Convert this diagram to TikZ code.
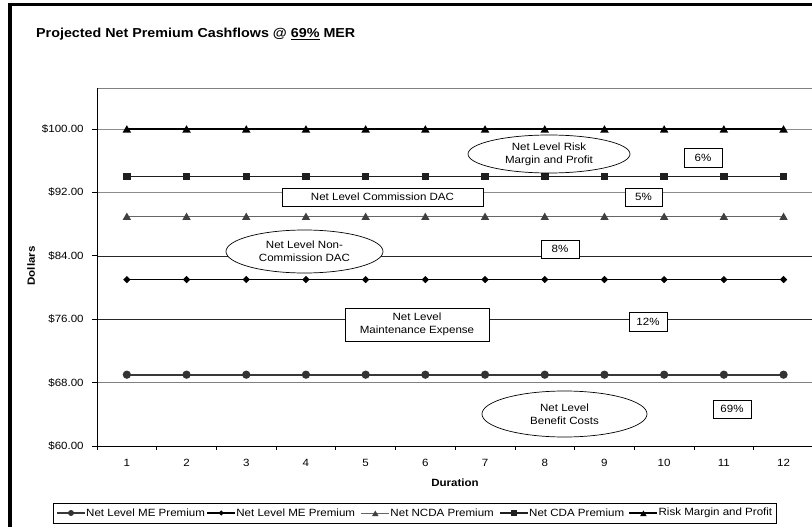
\documentclass[tikz,border=0pt]{standalone}
\usepackage{fontspec}
\setmainfont{Liberation Sans}[FakeStretch=1.1]
\usetikzlibrary{shapes.geometric, positioning}

\begin{document}
\begin{tikzpicture}[x=1pt, y=-1pt,
        lbl/.style={font=\fontsize{10.5}{13}\selectfont, inner sep=0pt},
        boldlbl/.style={font=\fontsize{10.5}{13}\selectfont\bfseries, inner sep=0pt},
        annot/.style={draw, fill=white, line width=0.7pt, inner sep=0pt, align=center, font=\fontsize{10.5}{13}\selectfont},
        annotEll/.style={annot, ellipse},
        gridGrey/.style={line width=0.6pt, draw=black!45},
        gridDark/.style={line width=0.6pt, draw=black!85},
        gridThick/.style={line width=1.6pt, draw=black!50},
        riskline/.style={line width=1.8pt, draw=black},
        cdaline/.style={line width=1.8pt, draw=black!88},
        ncdaline/.style={line width=0.9pt, draw=black!60},
        meline/.style={line width=1.8pt, draw=black},
        benline/.style={line width=2.2pt, draw=black!78},
        markTri/.style={regular polygon, regular polygon sides=3, fill, inner sep=0pt, minimum size=10pt, yshift=-1.2pt},
        markSq/.style={rectangle, fill, inner sep=0pt, minimum size=7.5pt},
        markDia/.style={diamond, fill, inner sep=0pt, minimum size=7.5pt},
        markDot/.style={circle, fill, inner sep=0pt, minimum size=8.3pt},
        legtext/.style={font=\fontsize{10.5}{13}\selectfont, inner sep=1pt},
        ]
        \useasboundingbox (0,0) rectangle (812,527);

        % frame and title
        \draw[line width=3.5pt] (10,4.5) rectangle (900,600);
        \node[font=\fontsize{13}{15}\selectfont\bfseries, inner sep=0pt, anchor=base west] (title) at (36,37.3)
            {Projected Net Premium Cashflows @ \underline{69\%} MER};

        % plot area
        \coordinate (plotNW) at (97,88);
        \coordinate (plotNE) at (830,88);
        \coordinate (plotSW) at (97,446);
        \coordinate (plotSE) at (830,446);
        \draw[line width=0.9pt, black!50] (plotNW) -- (plotNE);

        \begin{scope}[shift={(97,446)}, x=59.7pt, y=7.925pt]
            % gridlines
            \draw[gridGrey] (0,40) -- (12.5,40);
            \draw[gridGrey] (0,32) -- (12.5,32);
            \draw[gridDark] (0,24) -- (12.5,24);
            \draw[gridDark] (0,16) -- (12.5,16);
            \draw[gridThick] (0,8) -- (12.5,8);

            % ticks and tick labels
            \foreach \k in {0,...,12}
                \draw[line width=0.7pt] (\k,0) -- (\k,-0.5);
            \foreach \v/\t in {0/60,8/68,16/76,24/84,32/92,40/100} {
                \draw[line width=0.7pt] (0,\v) -- (-0.08,\v);
                \node[lbl, anchor=east] (ytick\t) at (-0.22,\v) {\$\t.00};
            }
            \foreach \i in {1,...,12}
                \node[lbl] (xtick\i) at (\i-0.5,-2.14) {\i};

            % series points
            \foreach \i in {1,...,12} {
                \coordinate (risk\i) at (\i-0.5,40);
                \coordinate (cda\i) at (\i-0.5,34);
                \coordinate (ncda\i) at (\i-0.5,29);
                \coordinate (me\i) at (\i-0.5,21);
                \coordinate (ben\i) at (\i-0.5,9);
            }
        \end{scope}

        % axes
        \draw[line width=0.8pt] (plotNW) -- (plotSW) -- (plotSE);

        % series
        \draw[riskline] (risk1) -- (risk12);
        \draw[cdaline] (cda1) -- (cda12);
        \draw[ncdaline] (ncda1) -- (ncda12);
        \draw[meline] (me1) -- (me12);
        \draw[benline] (ben1) -- (ben12);
        \foreach \i in {1,...,12} {
            \node[markTri, black] (riskM\i) at (risk\i) {};
            \node[markSq, black!88] (cdaM\i) at (cda\i) {};
            \node[markTri, black!75, minimum size=9.5pt] (ncdaM\i) at (ncda\i) {};
            \node[markDia, black] (meM\i) at (me\i) {};
            \node[markDot, black!80] (benM\i) at (ben\i) {};
        }

        % annotations
        \node[annotEll, minimum width=162, minimum height=38] (riskEll) at (549,154) {Net Level Risk\\Margin and Profit};
        \node[annot, minimum width=38, minimum height=19] (riskPct) at (703,157.5) {6\%};
        \node[annot, minimum width=201, minimum height=18] (cdaBox) at (382.5,197) {Net Level Commission DAC};
        \node[annot, minimum width=37, minimum height=18] (cdaPct) at (643.5,197) {5\%};
        \node[annotEll, minimum width=157, minimum height=43] (ncdaEll) at (304.5,251.5) {Net Level Non-\\Commission DAC};
        \node[annot, minimum width=38, minimum height=18] (ncdaPct) at (560,249) {8\%};
        \node[annot, minimum width=144, minimum height=33] (meBox) at (417,324.5) {Net Level\\Maintenance Expense};
        \node[annot, minimum width=38, minimum height=19] (mePct) at (648,321.5) {12\%};
        \node[annotEll, minimum width=165, minimum height=46] (benEll) at (564.5,414) {Net Level\\Benefit Costs};
        \node[annot, minimum width=38, minimum height=18] (benPct) at (732,409) {69\%};

        % axis titles
        \node[boldlbl, rotate=90] (ytitle) at (31,266) {Dollars};
        \node[boldlbl] (xtitle) at (455,483) {Duration};

        % legend
        \node[draw, line width=0.7pt, minimum width=723.4, minimum height=20, inner sep=0pt] (legend) at (415,513) {};
        \coordinate (lgA1) at (57,513);
        \coordinate[right=28pt of lgA1] (lgB1);
        \node[legtext, right=0pt of lgB1] (lgT1) {Net Level ME Premium};
        \coordinate[right=1pt of lgT1] (lgA2);
        \coordinate[right=28pt of lgA2] (lgB2);
        \node[legtext, right=0pt of lgB2] (lgT2) {Net Level ME Premium};
        \coordinate[right=5pt of lgT2] (lgA3);
        \coordinate[right=28pt of lgA3] (lgB3);
        \node[legtext, right=0pt of lgB3] (lgT3) {Net NCDA Premium};
        \coordinate[right=5pt of lgT3] (lgA4);
        \coordinate[right=28pt of lgA4] (lgB4);
        \node[legtext, right=0pt of lgB4] (lgT4) {Net CDA Premium};
        \coordinate[right=4pt of lgT4] (lgA5);
        \coordinate[right=28pt of lgA5] (lgB5);
        \node[legtext, right=0pt of lgB5] (lgT5) {Risk Margin and Profit};

        \draw[benline, line width=1.8pt] (lgA1) -- node[markDot, black!80, minimum size=6pt] (lgM1) {} (lgB1);
        \draw[meline] (lgA2) -- node[markDia, minimum size=6pt] (lgM2) {} (lgB2);
        \draw[ncdaline] (lgA3) -- node[markTri, black!75, minimum size=7.5pt] (lgM3) {} (lgB3);
        \draw[cdaline] (lgA4) -- node[markSq, black!88, minimum size=6pt] (lgM4) {} (lgB4);
        \draw[riskline] (lgA5) -- node[markTri, black, minimum size=7.5pt] (lgM5) {} (lgB5);

        \end{tikzpicture}
\end{document}
